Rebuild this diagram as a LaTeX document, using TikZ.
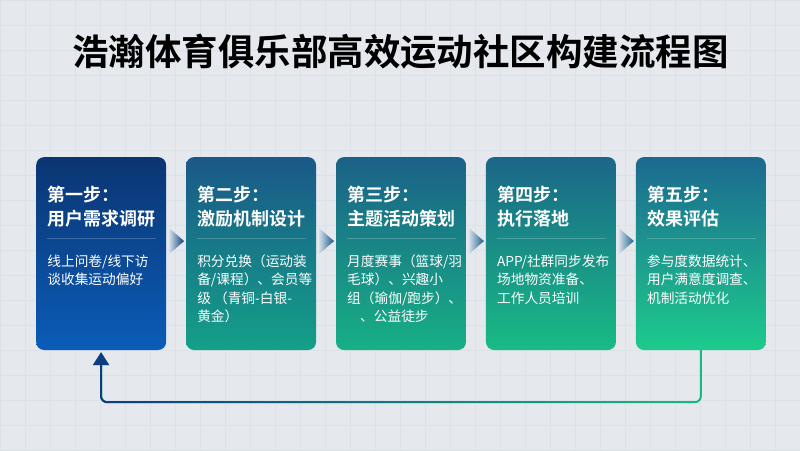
\documentclass[tikz,border=0pt]{standalone}
\usepackage{fontspec}
\setmainfont{Noto Sans CJK SC}[BoldFont={Noto Sans CJK SC Bold}]
\usetikzlibrary{positioning,calc,fadings,arrows.meta}

\definecolor{fondo}{HTML}{E5E9EE}
\definecolor{rejilla}{HTML}{DCE1E7}
\definecolor{azulA}{HTML}{0B3572}
\definecolor{azulB}{HTML}{0B5CB8}
\definecolor{tealA}{HTML}{1A5888}
\definecolor{tealB}{HTML}{14A088}
\definecolor{tealC}{HTML}{1B6187}
\definecolor{tealD}{HTML}{17B085}
\definecolor{tealE}{HTML}{1B6688}
\definecolor{tealF}{HTML}{18BB85}
\definecolor{tealG}{HTML}{1C6990}
\definecolor{verdeH}{HTML}{1DCB8C}
\definecolor{palido}{HTML}{D2DEEA}
\definecolor{marino}{HTML}{0E3C80}

\tikzset{
  paso/.style={rounded corners=8pt, minimum width=130pt, minimum height=193pt, inner sep=0pt},
  titulo/.style={anchor=north west, inner sep=0pt, text=white, align=left,
    font=\bfseries\fontsize{18}{24}\selectfont},
  cuerpo/.style={anchor=north west, inner sep=0pt, text=white, align=left,
    font=\fontsize{13.7}{18.5}\selectfont},
  linea/.style={white, opacity=0.2, line width=0.6pt},
  retorno/.style={line width=2pt, rounded corners=6pt, shorten >=2pt,
    -{Triangle[length=13pt, width=16pt]}}
}

\begin{document}
\begin{tikzpicture}[x=1pt, y=1pt]
    % Fondo
    \fill[fondo] (0,0) rectangle (800,450);
    \draw[rejilla, line width=0.4pt, step=25pt] (0,0) grid (800,450);
    \useasboundingbox (0,0) rectangle (800,450);

    % Título
    \node[font=\bfseries\fontsize{36.5}{40}\selectfont] (cabecera) at (400.5,399) {浩瀚体育俱乐部高效运动社区构建流程图};

    % Definición de los pasos
    \node[paso, top color=azulA, bottom color=azulB] (P1) at (101,196.5) {};
    \node[paso, top color=tealA, bottom color=tealB] (P2) at (251,196.5) {};
    \node[paso, top color=tealC, bottom color=tealD] (P3) at (401,196.5) {};
    \node[paso, top color=tealE, bottom color=tealF] (P4) at (551,196.5) {};
    \node[paso, top color=tealG, bottom color=verdeH] (P5) at (701,196.5) {};

    % Textos de cada paso
    \node[titulo] (T1) at (47,264) {第一步：\\用户需求调研};
    \node[titulo] (T2) at (197,264) {第二步：\\激励机制设计};
    \node[titulo] (T3) at (347,264) {第三步：\\主题活动策划};
    \node[titulo] (T4) at (497,264) {第四步：\\执行落地};
    \node[titulo] (T5) at (647,264) {第五步：\\效果评估};

    \draw[linea] (47,212) -- (156,212);
    \draw[linea] (197,212) -- (306,212);
    \draw[linea] (347,212) -- (456,212);
    \draw[linea] (497,212) -- (606,212);
    \draw[linea] (647,212) -- (756,212);

    \node[cuerpo] (C1) at (47,195.5) {线上问卷/线下访\\谈收集运动偏好};
    \node[cuerpo] (C2) at (197,195.5) {积分兑换（运动装\\备/课程）、会员等\\级 （青铜-白银-\\黄金）};
    \node[cuerpo] (C3) at (347,195.5) {月度赛事（篮球/羽\\毛球）、兴趣小\\组（瑜伽/跑步）、\\\hspace*{13pt}、公益徒步};
    \node[cuerpo] (C4) at (497,195.5) {APP/社群同步发布\\场地物资准备、\\工作人员培训};
    \node[cuerpo] (C5) at (647,195.5) {参与度数据统计、\\用户满意度调查、\\机制活动优化};

    % Flechas entre pasos
    \shade[left color=palido, right color=marino] (169,222) -- (184,209) -- (169,196) -- cycle;
    \shade[left color=palido, right color=tealA] (319,222) -- (334,209) -- (319,196) -- cycle;
    \shade[left color=palido, right color=tealC] (469,222) -- (484,209) -- (469,196) -- cycle;
    \shade[left color=palido, right color=tealE] (619,222) -- (634,209) -- (619,196) -- cycle;

    % Retorno al primer paso
    \draw[retorno, color=tealF] (P5.south) -- ++(0,-52) -| (P1.south);
    \draw[retorno, color=marino, path fading=east] (P5.south) -- ++(0,-52) -| (P1.south);
\end{tikzpicture}
\end{document}
